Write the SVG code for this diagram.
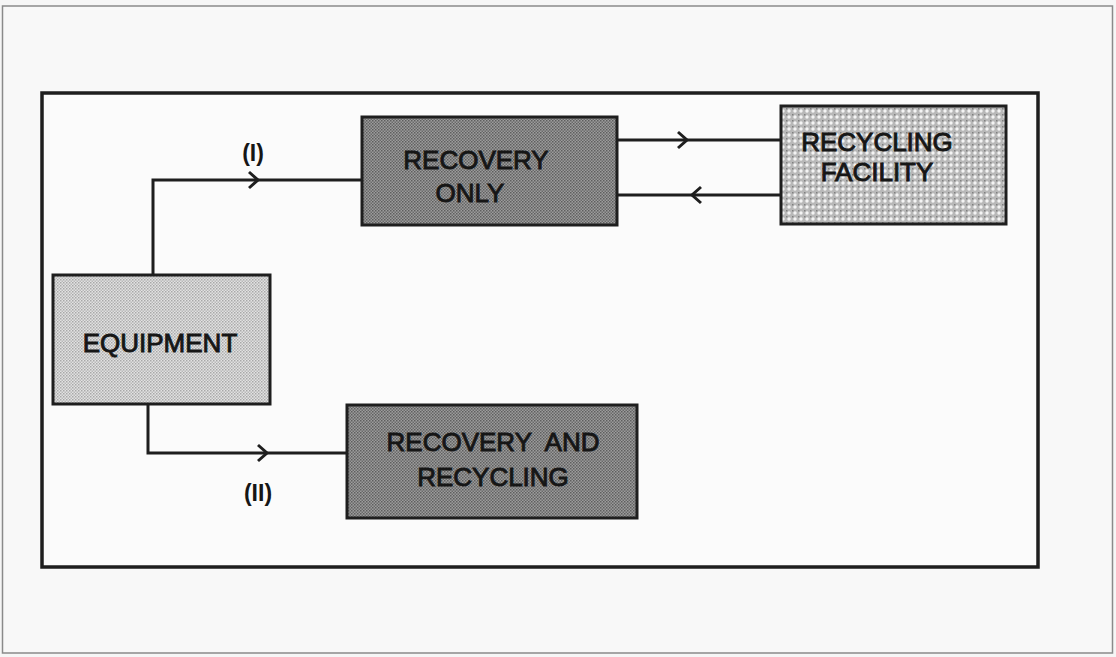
<svg xmlns="http://www.w3.org/2000/svg" width="1116" height="657" viewBox="0 0 1116 657">
  <defs>
    <pattern id="pLight" width="3" height="3" patternUnits="userSpaceOnUse">
      <rect width="3" height="3" fill="#e2e2e2"/>
      <rect width="1.5" height="1.5" fill="#a8a8a8"/>
      <rect x="1.5" y="1.5" width="1.5" height="1.5" fill="#b8b8b8"/>
    </pattern>
    <pattern id="pDark" width="3" height="3" patternUnits="userSpaceOnUse">
      <rect width="3" height="3" fill="#9c9c9c"/>
      <rect width="1.5" height="1.5" fill="#5e5e5e"/>
      <rect x="1.5" y="1.5" width="1.5" height="1.5" fill="#6a6a6a"/>
    </pattern>
    <pattern id="pCross" width="6" height="6" patternUnits="userSpaceOnUse">
      <rect width="6" height="6" fill="#b8b8b8"/>
      <circle cx="3" cy="3" r="1.7" fill="#f4f4f4"/>
      <rect width="1.5" height="1.5" fill="#808080"/>
    </pattern>
    <marker id="chev" markerUnits="userSpaceOnUse" markerWidth="20" markerHeight="20" viewBox="-12 -10 14 20" refX="0" refY="0" orient="auto">
      <path d="M-9,-8 L0,0 L-9,8" fill="none" stroke="#1e1e1e" stroke-width="3"/>
    </marker>
  </defs>
  <style>
    .box { stroke: #1e1e1e; stroke-width: 3; }
    .lbl { font-family: "Liberation Sans", Arial, sans-serif; font-size: 26px; fill: #161616; stroke: #161616; stroke-width: 0.9; text-anchor: middle; }
    .tag { font-family: "Liberation Sans", Arial, sans-serif; font-size: 23px; font-weight: bold; fill: #161616; text-anchor: middle; }
    .conn { fill: none; stroke: #1e1e1e; stroke-width: 3; }
  </style>

  <!-- page background -->
  <rect x="0" y="0" width="1116" height="657" fill="#f6f6f6"/>
  <rect x="2.5" y="6" width="1110" height="647" fill="#f8f8f8" stroke="#8a8a8a" stroke-width="1.5"/>

  <!-- inner frame -->
  <rect x="42" y="93" width="996" height="474" fill="#fbfbfb" stroke="#1e1e1e" stroke-width="3.5"/>

  <g id="connectors">
    <path class="conn" d="M153,276 V180 H258" marker-end="url(#chev)"/>
    <path class="conn" d="M258,180 H362"/>
    <path class="conn" d="M617,140 H687" marker-end="url(#chev)"/>
    <path class="conn" d="M687,140 H781"/>
    <path class="conn" d="M781,195 H692" marker-end="url(#chev)"/>
    <path class="conn" d="M692,195 H617"/>
    <path class="conn" d="M148,404 V453 H267" marker-end="url(#chev)"/>
    <path class="conn" d="M267,453 H347"/>
  </g>

  <g id="label-I">
    <text class="tag" x="253" y="161">(I)</text>
  </g>
  <g id="label-II">
    <text class="tag" x="258" y="501">(II)</text>
  </g>

  <g id="equipment">
    <rect class="box" x="53" y="275" width="217" height="129" fill="url(#pLight)"/>
    <text class="lbl" x="160" y="352" font-size="27">EQUIPMENT</text>
  </g>

  <g id="recovery-only">
    <rect class="box" x="362" y="117" width="255" height="108" fill="url(#pDark)"/>
    <text class="lbl" x="476" y="169">RECOVERY</text>
    <text class="lbl" x="470" y="202">ONLY</text>
  </g>

  <g id="recycling-facility">
    <rect class="box" x="781" y="106" width="225" height="118" fill="url(#pCross)"/>
    <text class="lbl" x="877" y="151">RECYCLING</text>
    <text class="lbl" x="877" y="181">FACILITY</text>
  </g>

  <g id="recovery-and-recycling">
    <rect class="box" x="347" y="405" width="290" height="113" fill="url(#pDark)"/>
    <text class="lbl" x="493" y="451" xml:space="preserve">RECOVERY  AND</text>
    <text class="lbl" x="493" y="486">RECYCLING</text>
  </g>
</svg>
